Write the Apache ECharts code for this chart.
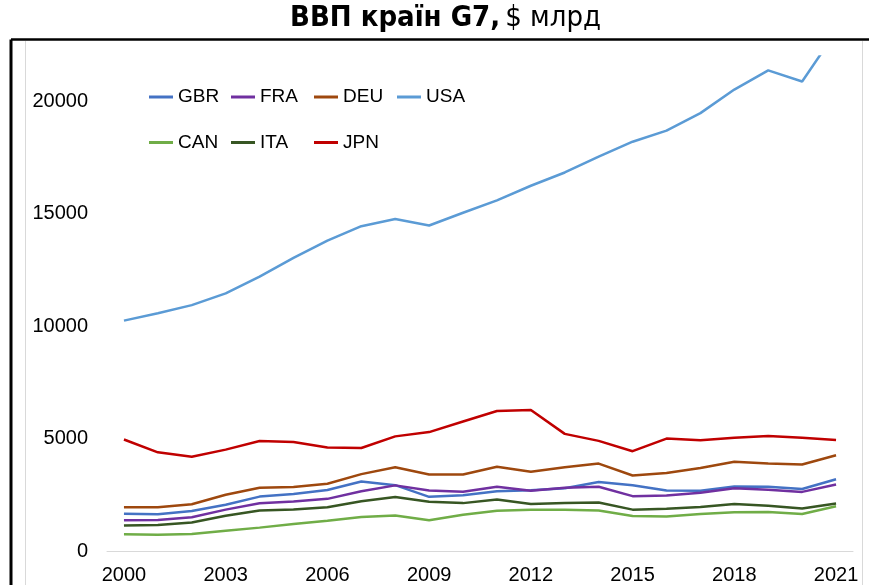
<!DOCTYPE html>
<html>
<head>
<meta charset="utf-8">
<script src="https://cdn.jsdelivr.net/npm/echarts@6/dist/echarts.min.js"></script>
<style>
html,body{margin:0;padding:0;background:#fff;}
#c{width:869px;height:585px;}
</style>
</head>
<body>
<div id="c"></div>
<script>
const years = ['2000','2001','2002','2003','2004','2005','2006','2007','2008','2009','2010','2011','2012','2013','2014','2015','2016','2017','2018','2019','2020','2021'];
const GBR = [1660,1640,1780,2060,2420,2540,2710,3090,2930,2410,2480,2660,2700,2790,3070,2930,2690,2680,2870,2860,2760,3190];
const FRA = [1370,1380,1500,1840,2120,2200,2320,2660,2920,2690,2640,2860,2680,2810,2860,2440,2470,2590,2790,2730,2630,2960];
const DEU = [1950,1950,2080,2500,2810,2850,2990,3420,3730,3400,3400,3750,3530,3730,3890,3360,3470,3690,3970,3890,3850,4260];
const USA = [10250,10580,10940,11460,12210,13040,13810,14450,14770,14480,15050,15600,16250,16840,17550,18210,18700,19480,20530,21380,20890,23100];
const CAN = [740,720,760,900,1040,1200,1350,1510,1580,1370,1610,1790,1830,1840,1800,1560,1530,1650,1720,1740,1650,1990];
const ITA = [1140,1160,1270,1570,1800,1850,1950,2210,2400,2190,2130,2290,2090,2140,2160,1840,1880,1960,2090,2010,1890,2110];
const JPN = [4960,4390,4190,4510,4890,4850,4600,4580,5100,5290,5760,6230,6270,5210,4900,4440,5000,4930,5040,5120,5040,4940];
const yTicks = [0,5000,10000,15000,20000];

const seriesDefs = [
  {name:'GBR', data:GBR, color:'#4472C4'},
  {name:'FRA', data:FRA, color:'#7030A0'},
  {name:'DEU', data:DEU, color:'#9E480E'},
  {name:'USA', data:USA, color:'#5B9BD5'},
  {name:'CAN', data:CAN, color:'#70AD47'},
  {name:'ITA', data:ITA, color:'#375623'},
  {name:'JPN', data:JPN, color:'#C00000'}
];

const font = '"Liberation Sans", Arial, sans-serif';
const titleFont = '"DejaVu Sans Condensed", "Liberation Sans", sans-serif';
function legendCol(left, names){
  return {
    show:true, orient:'vertical', left:left, top:87, padding:0,
    icon:'rect', itemWidth:24, itemHeight:3, itemGap:25.5,
    data:names,
    textStyle:{fontFamily:font, fontSize:19, color:'#000', lineHeight:20},
    selectedMode:false
  };
}

const chart = echarts.init(document.getElementById('c'), null, {renderer:'canvas'});
chart.setOption({
  animation:false,
  backgroundColor:'#fff',
  title:{
    text:'{b|ВВП країн G7,} {n|$ млрд}',
    left:290, top:4, padding:0,
    textStyle:{
      rich:{
        b:{fontFamily:titleFont, fontWeight:'bold', fontSize:29, color:'#000'},
        n:{fontFamily:titleFont, fontWeight:'normal', fontSize:29, color:'#000'}
      }
    }
  },
  graphic:[
    {type:'line', shape:{x1:25.5, y1:41, x2:25.5, y2:585}, style:{stroke:'#D9D9D9', lineWidth:1}, silent:true},
    {type:'line', shape:{x1:862.5, y1:41, x2:862.5, y2:585}, style:{stroke:'#D9D9D9', lineWidth:1}, silent:true},
    {type:'line', shape:{x1:11, y1:39.5, x2:869, y2:39.5}, style:{stroke:'#000', lineWidth:2.5}, silent:true},
    {type:'line', shape:{x1:11, y1:39.5, x2:11, y2:585}, style:{stroke:'#000', lineWidth:3}, silent:true}
  ],
  legend:[
    legendCol(149, ['GBR','CAN']),
    legendCol(231, ['FRA','ITA']),
    legendCol(314, ['DEU','JPN']),
    legendCol(397, ['USA'])
  ],
  grid:{left:107, right:16, top:56.5, bottom:33.5, containLabel:false},
  xAxis:{
    type:'category', data:years, boundaryGap:true,
    axisLine:{show:true, lineStyle:{color:'#D9D9D9', width:1}},
    axisTick:{show:false},
    axisLabel:{interval:2, fontFamily:font, fontSize:20, color:'#000', margin:14}
  },
  yAxis:{
    type:'value', min:0, max:22000, interval:5000,
    axisLine:{show:false}, axisTick:{show:false},
    splitLine:{show:false},
    axisLabel:{fontFamily:font, fontSize:20, color:'#000', margin:19, showMaxLabel:false,
      formatter:function(v){ return yTicks.indexOf(v) >= 0 ? String(v) : ''; }}
  },
  series: seriesDefs.map(s => ({
    name:s.name, type:'line', data:s.data, symbol:'none', smooth:false, clip:true,
    lineStyle:{color:s.color, width:2.5}, itemStyle:{color:s.color}
  }))
});
</script>
</body>
</html>
